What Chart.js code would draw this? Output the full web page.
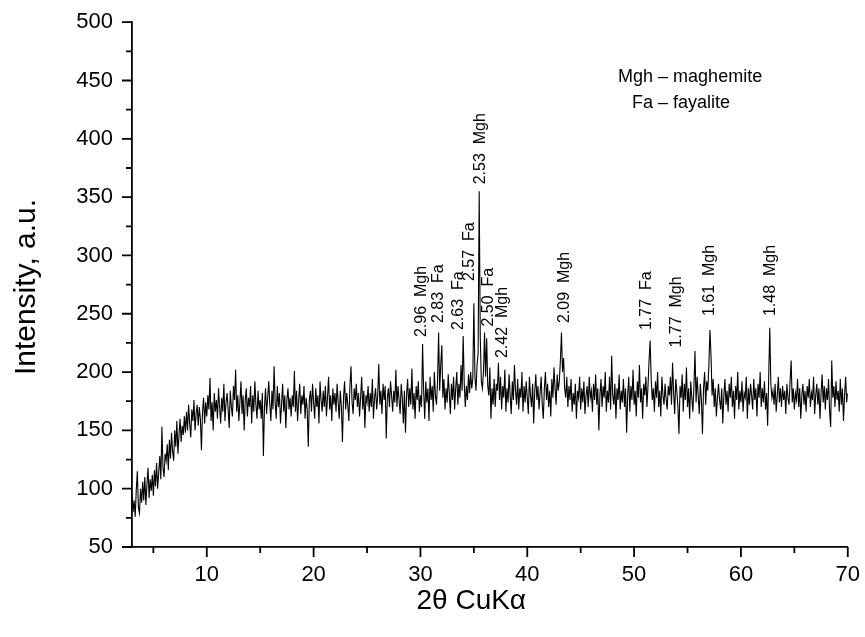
<!DOCTYPE html>
<html lang="en">
<head>
    <meta charset="UTF-8">
    <title>XRD pattern</title>
    <script src="https://cdn.jsdelivr.net/npm/chart.js"></script>
    <style>
        body {
            margin: 0;
            background: #fff;
        }
        #wrap {
            width: 865px;
            height: 637px;
        }
    </style>
</head>
<body>
    <div id="wrap"><canvas id="xrd" width="865" height="637"></canvas></div>

    <script>
        // 2theta grid: start and step of the scan
        const twoThetaStart = 3.0;
        const twoThetaStep = 0.1;

        // intensity, one row per degree (3.0 ... 70.0)
        const intensity = [
            96, 80, 90, 76, 99, 115, 84, 79, 100, 88,
            106, 90, 110, 86, 104, 118, 92, 108, 98, 112,
            94, 116, 102, 122, 100, 114, 128, 108, 153, 118,
            110, 130, 124, 138, 116, 142, 126, 148, 132, 124,
            150, 136, 158, 130, 146, 160, 140, 154, 146, 162,
            148, 166, 150, 172, 156, 144, 168, 158, 176, 150,
            164, 172, 154, 170, 160, 133, 166, 178, 156, 174,
            162, 180, 168, 195, 158, 174, 150, 182, 166, 176,
            160, 186, 170, 156, 178, 166, 190, 158, 174, 182,
            168, 152, 184, 170, 162, 188, 176, 202, 166, 180,
            158, 174, 192, 164, 180, 150, 176, 186, 162, 178,
            170, 188, 156, 180, 166, 192, 172, 160, 184, 168,
            176, 160, 182, 128, 170, 186, 164, 178, 192, 172,
            158, 184, 168, 205, 174, 160, 188, 170, 182, 156,
            172, 190, 166, 180, 152, 176, 186, 168, 178, 162,
            180, 170, 201, 166, 184, 158, 176, 190, 164, 180,
            172, 188, 160, 178, 168, 136, 176, 184, 166, 190,
            174, 160, 186, 170, 180, 156, 192, 176, 166, 184,
            170, 188, 162, 178, 196, 168, 180, 158, 186, 172,
            182, 166, 190, 174, 160, 184, 170, 140, 178, 192,
            168, 182, 172, 158, 188, 205, 174, 164, 186, 176,
            190, 170, 182, 162, 178, 196, 168, 184, 152, 180,
            174, 188, 166, 182, 170, 194, 160, 178, 186, 168,
            180, 207, 172, 184, 164, 190, 176, 188, 143, 178,
            186, 170, 192, 180, 166, 184, 174, 202, 170, 188,
            176, 164, 190, 178, 156, 184, 148, 180, 194, 170,
            186, 172, 203, 168, 182, 160, 188, 176, 192, 166,
            180, 170, 224, 184, 160, 192, 174, 186, 158, 196,
            176, 188, 166, 200, 180, 172, 192, 234, 184, 206,
            223, 178, 194, 168, 186, 174, 198, 182, 164, 190,
            176, 196, 168, 186, 200, 172, 190, 178, 206, 184,
            231, 190, 170, 188, 176, 198, 182, 200, 186, 194,
            259, 196, 184, 206, 216, 355, 230, 192, 186, 200,
            234, 196, 229, 188, 180, 204, 160, 186, 172, 194,
            170, 190, 184, 208, 176, 196, 168, 188, 178, 202,
            166, 186, 174, 198, 180, 164, 192, 176, 206, 184,
            172, 194, 168, 186, 178, 200, 166, 188, 174, 192,
            178, 164, 196, 180, 170, 190, 156, 184, 198, 176,
            188, 168, 182, 196, 172, 160, 186, 200, 176, 190,
            170, 184, 162, 194, 178, 204, 186, 172, 198, 184,
            192, 210, 234, 200, 212, 186, 178, 196, 170, 188,
            176, 194, 166, 182, 172, 190, 160, 184, 178, 196,
            168, 186, 174, 192, 164, 180, 188, 170, 196, 178,
            184, 166, 190, 176, 198, 172, 186, 150, 180, 194,
            170, 188, 178, 200, 166, 184, 174, 196, 168, 214,
            180, 172, 190, 160, 186, 176, 198, 168, 184, 174,
            194, 170, 186, 148, 180, 196, 166, 188, 176, 202,
            172, 184, 162, 192, 178, 206, 174, 186, 160, 190,
            180, 196, 170, 188, 210, 227, 194, 176, 186, 166,
            192, 178, 200, 170, 184, 162, 196, 180, 172, 190,
            176, 168, 188, 180, 196, 172, 208, 182, 164, 194,
            184, 170, 147, 188, 178, 198, 166, 190, 176, 204,
            170, 186, 160, 192, 178, 166, 188, 218, 174, 196,
            180, 164, 190, 176, 147, 186, 200, 172, 192, 184,
            206, 236, 214, 180, 194, 170, 186, 162, 178, 190,
            176, 168, 186, 156, 180, 194, 172, 184, 166, 190,
            178, 196, 170, 184, 160, 188, 176, 200, 168, 184,
            174, 192, 166, 182, 178, 196, 160, 186, 172, 190,
            180, 168, 194, 176, 186, 162, 190, 178, 200, 170,
            186, 174, 192, 168, 182, 154, 196, 238, 190, 178,
            184, 172, 190, 166, 180, 196, 174, 186, 170, 188,
            176, 184, 164, 190, 178, 172, 192, 210, 174, 186,
            168, 182, 176, 194, 170, 186, 160, 180, 190, 172,
            184, 166, 188, 178, 194, 170, 182, 176, 196, 164,
            180, 190, 172, 186, 160, 182, 198, 174, 188, 168,
            186, 176, 194, 166, 153, 210, 178, 188, 170, 192,
            176, 184, 166, 194, 172, 186, 158, 180, 196, 174,
            182
        ];

        // peak labels: text, 2theta position and the intensity where the text starts
        const peakText = ['2.96  Mgh', '2.83  Fa', '2.63  Fa', '2.57  Fa', '2.53  Mgh', '2.50  Fa',
                          '2.42  Mgh', '2.09  Mgh', '1.77  Fa', '1.77  Mgh', '1.61  Mgh', '1.48  Mgh'];
        const peakX = [30.1, 31.7, 33.6, 34.6, 35.6, 36.4, 37.7, 43.5, 51.2, 54.0, 57.1, 62.8];
        const peakY = [230, 242, 236, 278, 361, 239, 212, 242, 236, 221, 248, 248];

        // phase key in the upper right
        const keyText = ['Mgh \u2013 maghemite', 'Fa \u2013 fayalite'];
        const keyX = [48.5, 49.8];
        const keyY = [453, 431];

        // axis ticks
        const xMajor = [10, 20, 30, 40, 50, 60, 70];
        const xMinor = [5, 15, 25, 35, 45, 55, 65];
        const yMajor = [50, 100, 150, 200, 250, 300, 350, 400, 450, 500];
        const yMinor = [75, 125, 175, 225, 275, 325, 375, 425, 475];

        const FONT = "'Liberation Sans', Arial, sans-serif";

        const points = intensity.map((v, i) => ({
            x: +(twoThetaStart + i * twoThetaStep).toFixed(1),
            y: v
        }));

        // own tick marks (major + minor), text labels and axis titles
        const decorations = {
            id: 'decorations',
            afterDraw(chart) {
                const ctx = chart.ctx;
                const xs = chart.scales.x;
                const ys = chart.scales.y;
                const area = chart.chartArea;

                ctx.save();
                ctx.strokeStyle = '#000';
                ctx.lineWidth = 1.8;
                ctx.beginPath();
                xMajor.forEach(v => {
                    const px = xs.getPixelForValue(v);
                    ctx.moveTo(px, area.bottom);
                    ctx.lineTo(px, area.bottom + 10);
                });
                xMinor.forEach(v => {
                    const px = xs.getPixelForValue(v);
                    ctx.moveTo(px, area.bottom);
                    ctx.lineTo(px, area.bottom + 6);
                });
                yMajor.forEach(v => {
                    const py = ys.getPixelForValue(v);
                    ctx.moveTo(area.left, py);
                    ctx.lineTo(area.left - 10, py);
                });
                yMinor.forEach(v => {
                    const py = ys.getPixelForValue(v);
                    ctx.moveTo(area.left, py);
                    ctx.lineTo(area.left - 6, py);
                });
                ctx.stroke();

                ctx.fillStyle = '#000';

                // rotated peak labels
                ctx.font = '16px ' + FONT;
                ctx.textAlign = 'left';
                ctx.textBaseline = 'middle';
                peakText.forEach((t, i) => {
                    ctx.save();
                    ctx.translate(xs.getPixelForValue(peakX[i]), ys.getPixelForValue(peakY[i]));
                    ctx.rotate(-Math.PI / 2);
                    ctx.fillText(t, 0, 0);
                    ctx.restore();
                });

                // phase key
                ctx.font = '18px ' + FONT;
                keyText.forEach((t, i) => {
                    ctx.fillText(t, xs.getPixelForValue(keyX[i]), ys.getPixelForValue(keyY[i]));
                });

                // axis titles
                ctx.textAlign = 'center';
                ctx.font = '28px ' + FONT;
                ctx.fillText('2\u03B8 CuK\u03B1', area.left + (area.right - area.left) * 0.474, 601);
                ctx.font = '30px ' + FONT;
                ctx.textBaseline = 'alphabetic';
                ctx.save();
                ctx.translate(35, 287);
                ctx.rotate(-Math.PI / 2);
                ctx.fillText('Intensity, a.u.', 0, 0);
                ctx.restore();

                ctx.restore();
            }
        };

        new Chart(document.getElementById('xrd'), {
            type: 'line',
            data: {
                datasets: [{
                    label: 'XRD',
                    data: points,
                    borderColor: '#000',
                    borderWidth: 1.1,
                    pointRadius: 0,
                    tension: 0,
                    fill: false
                }]
            },
            options: {
                responsive: false,
                animation: false,
                layout: { padding: { left: 0, top: 21, right: 16, bottom: 0 } },
                plugins: {
                    legend: { display: false },
                    tooltip: { enabled: false }
                },
                scales: {
                    x: {
                        type: 'linear',
                        min: 3,
                        max: 70,
                        afterBuildTicks: scale => { scale.ticks = xMajor.map(v => ({ value: v })); },
                        afterFit: scale => { scale.height = 90; },
                        grid: {
                            drawOnChartArea: false,
                            drawTicks: true,
                            tickLength: 10,
                            tickColor: 'transparent'
                        },
                        border: { display: true, color: '#000', width: 1.8 },
                        ticks: {
                            color: '#000',
                            padding: 5,
                            maxRotation: 0,
                            font: { family: FONT, size: 22 }
                        }
                    },
                    y: {
                        min: 50,
                        max: 500,
                        afterBuildTicks: scale => { scale.ticks = yMajor.map(v => ({ value: v })); },
                        afterFit: scale => { scale.width = 132; },
                        grid: {
                            drawOnChartArea: false,
                            drawTicks: true,
                            tickLength: 10,
                            tickColor: 'transparent'
                        },
                        border: { display: true, color: '#000', width: 1.8 },
                        ticks: {
                            color: '#000',
                            padding: 9,
                            font: { family: FONT, size: 22 }
                        }
                    }
                }
            },
            plugins: [decorations]
        });
    </script>
</body>
</html>
